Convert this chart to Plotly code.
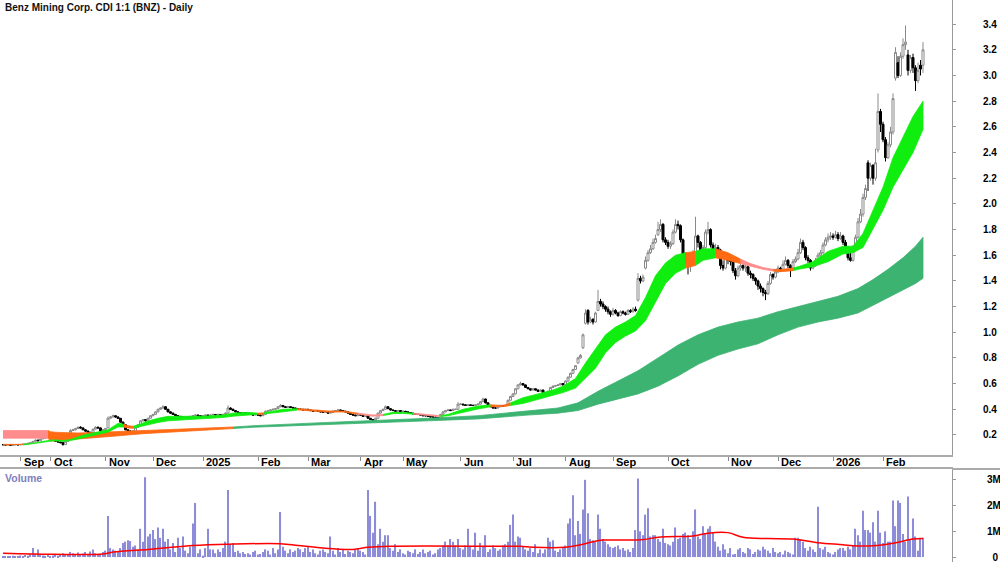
import plotly.graph_objects as go

TITLE = "Benz Mining Corp. CDI 1:1 (BNZ) - Daily"

# ---- month ticks (candle index of first session in month) ----
month_idx = [7, 19, 41, 60, 80, 102, 122, 143, 160, 183, 204, 225, 244, 266, 290, 310, 332, 352]
month_lbl = ["Sep", "Oct", "Nov", "Dec", "2025", "Feb", "Mar", "Apr", "May", "Jun", "Jul", "Aug",
             "Sep", "Oct", "Nov", "Dec", "2026", "Feb"]

# ---- daily OHLC ----
opens = [
    .125, .124, .122, .125, .120, .122, .125, .123, .125, .128,
    .130, .135, .140, .150, .160, .155, .170, .175, .180, .185,
    .175, .165, .150, .145, .140, .125, .150, .180, .235, .240,
    .250, .260, .255, .240, .230, .220, .215, .245, .260, .255,
    .230, .240, .255, .330, .340, .350, .340, .330, .300, .280,
    .240, .230, .225, .230, .260, .280, .310, .320, .310, .330,
    .350, .360, .380, .400, .410, .420, .400, .380, .370, .360,
    .350, .345, .340, .335, .340, .335, .345, .350, .355, .350,
    .345, .350, .355, .350, .355, .360, .355, .360, .355, .360,
    .370, .410, .400, .390, .380, .375, .370, .375, .370, .365,
    .360, .355, .360, .355, .350, .360, .385, .390, .395, .400,
    .405, .420, .430, .420, .415, .420, .415, .410, .405, .400,
    .400, .395, .400, .395, .390, .385, .390, .385, .380, .375,
    .380, .370, .375, .385, .390, .395, .390, .385, .380, .370,
    .360, .355, .350, .360, .355, .345, .350, .330, .320, .310,
    .330, .370, .390, .400, .420, .405, .395, .390, .385, .390,
    .380, .385, .380, .375, .370, .365, .360, .360, .355, .350,
    .350, .345, .340, .340, .335, .330, .360, .380, .390, .395,
    .390, .400, .400, .440, .440, .435, .430, .435, .430, .430,
    .435, .440, .460, .480, .450, .430, .420, .410, .410, .420,
    .430, .425, .430, .470, .500, .520, .560, .590, .600, .590,
    .570, .560, .550, .560, .550, .540, .550, .530, .520, .540,
    .570, .580, .585, .590, .600, .590, .620, .650, .680, .710,
    .760, .800, .880, 1.07, 1.17, 1.08, 1.10, 1.08, 1.17, 1.24,
    1.22, 1.20, 1.18, 1.16, 1.14, 1.17, 1.15, 1.13, 1.16, 1.15,
    1.14, 1.17, 1.16, 1.18, 1.25, 1.42, 1.40, 1.50, 1.56, 1.62,
    1.65, 1.70, 1.76, 1.80, 1.84, 1.72, 1.70, 1.67, 1.69, 1.78,
    1.84, 1.83, 1.72, 1.58, 1.56, 1.52, 1.55, 1.60, 1.75, 1.70,
    1.62, 1.66, 1.78, 1.80, 1.68, 1.62, 1.66, 1.64, 1.52, 1.50,
    1.58, 1.56, 1.55, 1.48, 1.44, 1.50, 1.52, 1.50, 1.51, 1.46,
    1.45, 1.42, 1.40, 1.36, 1.34, 1.31, 1.30, 1.38, 1.45, 1.43,
    1.47, 1.50, 1.49, 1.53, 1.56, 1.52, 1.50, 1.55, 1.57, 1.62,
    1.70, 1.66, 1.58, 1.56, 1.50, 1.52, 1.56, 1.60, 1.62, 1.68,
    1.72, 1.74, 1.75, 1.74, 1.76, 1.73, 1.75, 1.70, 1.66, 1.58,
    1.56, 1.66, 1.74, 1.86, 1.92, 2.05, 2.32, 2.20, 2.30, 2.20,
    2.42, 2.72, 2.62, 2.50, 2.36, 2.46, 2.56, 2.98, 3.10, 3.00,
    3.15, 3.24, 3.16, 3.04, 3.14, 3.06, 2.96, 3.08, 3.08,
]
highs = [
    .127, .125, .126, .125, .124, .127, .126, .127, .130, .133,
    .137, .143, .152, .163, .162, .173, .180, .185, .190, .186,
    .178, .167, .155, .148, .142, .152, .172, .245, .248, .255,
    .265, .268, .258, .245, .234, .225, .250, .268, .265, .258,
    .245, .255, .345, .348, .358, .352, .345, .332, .305, .283,
    .245, .236, .238, .265, .285, .315, .325, .323, .335, .355,
    .365, .385, .405, .415, .430, .423, .403, .385, .374, .364,
    .355, .348, .344, .346, .343, .350, .355, .360, .358, .353,
    .355, .360, .358, .360, .365, .362, .365, .363, .365, .375,
    .430, .415, .405, .394, .384, .378, .380, .378, .373, .368,
    .363, .365, .362, .357, .365, .390, .395, .400, .405, .410,
    .425, .440, .433, .423, .425, .423, .418, .413, .408, .406,
    .403, .405, .403, .398, .393, .395, .392, .387, .383, .385,
    .383, .380, .390, .395, .400, .398, .393, .388, .382, .372,
    .363, .358, .365, .362, .357, .355, .352, .333, .322, .335,
    .375, .395, .405, .430, .423, .408, .398, .393, .395, .392,
    .390, .387, .382, .377, .372, .367, .366, .362, .357, .355,
    .352, .347, .345, .342, .337, .365, .385, .395, .400, .398,
    .405, .404, .455, .448, .443, .438, .440, .437, .436, .440,
    .445, .465, .490, .483, .453, .433, .423, .416, .425, .435,
    .432, .435, .475, .505, .525, .565, .595, .615, .605, .593,
    .573, .563, .565, .562, .553, .555, .552, .533, .545, .575,
    .585, .590, .595, .605, .603, .625, .655, .685, .715, .745,
    .810, .830, .990, 1.18, 1.18, 1.12, 1.11, 1.16, 1.33, 1.26,
    1.24, 1.21, 1.20, 1.17, 1.19, 1.18, 1.16, 1.17, 1.17, 1.16,
    1.18, 1.18, 1.195, 1.20, 1.46, 1.44, 1.45, 1.59, 1.64, 1.68,
    1.73, 1.76, 1.86, 1.88, 1.85, 1.74, 1.72, 1.71, 1.80, 1.88,
    1.87, 1.84, 1.73, 1.62, 1.57, 1.58, 1.64, 1.90, 1.76, 1.71,
    1.68, 1.80, 1.86, 1.81, 1.70, 1.69, 1.68, 1.65, 1.56, 1.62,
    1.60, 1.58, 1.56, 1.50, 1.52, 1.55, 1.53, 1.53, 1.52, 1.48,
    1.46, 1.43, 1.41, 1.38, 1.35, 1.33, 1.40, 1.47, 1.46, 1.49,
    1.52, 1.51, 1.56, 1.59, 1.57, 1.53, 1.57, 1.59, 1.65, 1.73,
    1.72, 1.67, 1.60, 1.57, 1.54, 1.58, 1.62, 1.64, 1.70, 1.74,
    1.77, 1.78, 1.77, 1.79, 1.78, 1.78, 1.76, 1.72, 1.67, 1.62,
    1.68, 1.76, 1.89, 1.96, 2.08, 2.15, 2.34, 2.32, 2.31, 2.43,
    2.86, 2.74, 2.64, 2.52, 2.48, 2.60, 2.86, 3.22, 3.15, 3.18,
    3.29, 3.39, 3.20, 3.16, 3.17, 3.08, 3.10, 3.12, 3.26,
]
lows = [
    .121, .120, .121, .118, .119, .121, .121, .122, .124, .127,
    .129, .134, .138, .148, .152, .154, .168, .172, .178, .172,
    .162, .148, .143, .135, .118, .124, .148, .178, .230, .236,
    .245, .250, .238, .226, .217, .210, .214, .243, .250, .226,
    .228, .236, .254, .325, .336, .335, .325, .296, .276, .236,
    .226, .220, .222, .228, .255, .278, .305, .305, .308, .328,
    .345, .356, .376, .395, .405, .396, .376, .366, .356, .346,
    .340, .336, .330, .333, .331, .334, .342, .347, .346, .341,
    .343, .348, .346, .348, .352, .350, .352, .351, .352, .357,
    .368, .396, .386, .376, .371, .366, .368, .366, .361, .356,
    .351, .353, .351, .346, .348, .358, .381, .386, .391, .396,
    .403, .416, .416, .411, .412, .411, .406, .401, .396, .395,
    .391, .393, .391, .386, .381, .383, .381, .376, .371, .373,
    .366, .368, .373, .383, .387, .386, .381, .376, .366, .356,
    .351, .346, .348, .351, .341, .343, .326, .316, .300, .308,
    .328, .366, .386, .396, .401, .391, .386, .381, .383, .376,
    .378, .376, .371, .366, .361, .356, .355, .351, .346, .345,
    .341, .336, .335, .331, .322, .328, .357, .376, .386, .386,
    .387, .394, .398, .434, .431, .426, .428, .426, .425, .428,
    .432, .438, .456, .446, .426, .416, .406, .404, .408, .418,
    .421, .423, .428, .466, .496, .516, .556, .585, .584, .566,
    .556, .546, .548, .546, .536, .538, .526, .510, .518, .538,
    .566, .576, .581, .586, .586, .588, .616, .646, .676, .706,
    .755, .795, .870, 1.06, 1.06, 1.07, 1.06, 1.075, 1.165, 1.20,
    1.18, 1.16, 1.14, 1.12, 1.13, 1.14, 1.12, 1.125, 1.14, 1.13,
    1.135, 1.15, 1.155, 1.16, 1.24, 1.38, 1.39, 1.49, 1.55, 1.61,
    1.64, 1.69, 1.75, 1.78, 1.70, 1.68, 1.65, 1.65, 1.68, 1.77,
    1.80, 1.70, 1.56, 1.54, 1.45, 1.47, 1.53, 1.59, 1.66, 1.60,
    1.60, 1.65, 1.76, 1.66, 1.60, 1.61, 1.62, 1.49, 1.48, 1.49,
    1.53, 1.52, 1.46, 1.41, 1.43, 1.48, 1.48, 1.47, 1.44, 1.42,
    1.40, 1.37, 1.33, 1.31, 1.28, 1.25, 1.29, 1.37, 1.41, 1.42,
    1.46, 1.47, 1.48, 1.52, 1.50, 1.43, 1.49, 1.54, 1.56, 1.61,
    1.64, 1.56, 1.54, 1.48, 1.49, 1.51, 1.55, 1.58, 1.61, 1.67,
    1.70, 1.72, 1.72, 1.73, 1.71, 1.72, 1.68, 1.64, 1.56, 1.55,
    1.55, 1.65, 1.73, 1.85, 1.90, 2.03, 2.10, 2.18, 2.15, 2.18,
    2.40, 2.56, 2.48, 2.33, 2.35, 2.44, 2.54, 2.96, 2.98, 2.99,
    3.13, 3.20, 3.00, 3.02, 3.02, 2.88, 2.94, 3.00, 3.02,
]
closes = [
    .124, .122, .125, .120, .122, .125, .123, .125, .128, .130,
    .135, .140, .150, .160, .155, .170, .175, .180, .185, .175,
    .165, .150, .145, .140, .125, .150, .170, .235, .240, .250,
    .260, .255, .240, .230, .220, .215, .245, .260, .255, .230,
    .240, .250, .330, .340, .350, .340, .330, .300, .280, .240,
    .230, .225, .230, .260, .280, .310, .320, .310, .330, .350,
    .360, .380, .400, .410, .420, .400, .380, .370, .360, .350,
    .345, .340, .335, .340, .335, .345, .350, .355, .350, .345,
    .350, .355, .350, .355, .360, .355, .360, .355, .360, .370,
    .410, .400, .390, .380, .375, .370, .375, .370, .365, .360,
    .355, .360, .355, .350, .360, .385, .390, .395, .400, .405,
    .420, .430, .420, .415, .420, .415, .410, .405, .400, .400,
    .395, .400, .395, .390, .385, .390, .385, .380, .375, .380,
    .370, .375, .385, .390, .395, .390, .385, .380, .370, .360,
    .355, .350, .360, .355, .345, .350, .330, .320, .310, .330,
    .370, .390, .400, .420, .405, .395, .390, .385, .390, .380,
    .385, .380, .375, .370, .365, .360, .360, .355, .350, .350,
    .345, .340, .340, .335, .330, .360, .380, .390, .395, .390,
    .400, .400, .440, .440, .435, .430, .435, .430, .430, .435,
    .440, .460, .480, .450, .430, .420, .410, .410, .420, .430,
    .425, .430, .470, .500, .520, .560, .590, .600, .590, .570,
    .560, .550, .560, .550, .540, .550, .530, .520, .540, .570,
    .580, .585, .590, .600, .590, .620, .650, .680, .710, .740,
    .800, .820, .980, 1.15, 1.08, 1.10, 1.08, 1.15, 1.24, 1.22,
    1.20, 1.18, 1.16, 1.14, 1.17, 1.15, 1.13, 1.16, 1.15, 1.14,
    1.17, 1.16, 1.18, 1.17, 1.42, 1.40, 1.43, 1.56, 1.62, 1.65,
    1.70, 1.73, 1.80, 1.84, 1.72, 1.70, 1.67, 1.69, 1.78, 1.84,
    1.83, 1.72, 1.58, 1.56, 1.52, 1.55, 1.60, 1.75, 1.70, 1.62,
    1.66, 1.78, 1.80, 1.68, 1.62, 1.66, 1.64, 1.52, 1.50, 1.58,
    1.56, 1.55, 1.48, 1.44, 1.50, 1.52, 1.50, 1.51, 1.46, 1.45,
    1.42, 1.40, 1.36, 1.34, 1.31, 1.30, 1.38, 1.45, 1.43, 1.47,
    1.50, 1.49, 1.53, 1.56, 1.52, 1.50, 1.55, 1.57, 1.62, 1.70,
    1.66, 1.58, 1.56, 1.50, 1.52, 1.56, 1.60, 1.62, 1.68, 1.72,
    1.74, 1.75, 1.74, 1.76, 1.73, 1.75, 1.70, 1.66, 1.58, 1.56,
    1.66, 1.74, 1.86, 1.92, 2.05, 2.12, 2.20, 2.30, 2.20, 2.32,
    2.72, 2.62, 2.50, 2.36, 2.46, 2.56, 2.82, 3.18, 3.00, 3.15,
    3.24, 3.26, 3.04, 3.14, 3.06, 2.96, 3.04, 3.05, 3.20,
]
# ---- daily volume (millions) ----
volume_m = [
    0.02, 0.03, 0.01, 0.02, 0.05, 0.02, 0.03, 0.06, 0.04, 0.08,
    0.05, 0.12, 0.35, 0.10, 0.30, 0.08, 0.06, 0.05, 0.10, 0.04,
    0.06, 0.12, 0.05, 0.08, 0.15, 0.10, 0.12, 0.20, 0.15, 0.08,
    0.18, 0.10, 0.14, 0.20, 0.10, 0.22, 0.30, 0.15, 0.08, 0.12,
    0.20, 0.25, 1.60, 0.35, 0.30, 0.25, 0.20, 0.35, 0.55, 0.60,
    0.65, 0.62, 0.40, 0.45, 0.30, 1.10, 0.60, 3.10, 0.80, 0.90,
    1.05, 0.70, 1.15, 0.75, 1.10, 0.60, 0.70, 0.30, 0.55, 0.20,
    0.75, 0.35, 0.80, 0.25, 0.15, 0.40, 1.30, 2.10, 0.15, 0.30,
    0.05, 0.35, 1.10, 0.30, 0.30, 0.15, 0.30, 0.20, 0.35, 0.60,
    2.60, 0.50, 0.55, 0.20, 0.25, 0.15, 0.20, 0.12, 0.15, 0.10,
    0.20, 0.25, 0.10, 0.12, 0.20, 0.30, 0.25, 0.10, 0.35, 0.15,
    0.30, 1.75, 0.40, 0.25, 0.15, 0.30, 0.20, 0.25, 0.35, 0.30,
    0.20, 0.35, 0.40, 0.20, 0.30, 0.15, 0.10, 0.25, 0.30, 0.20,
    0.15, 0.80, 0.25, 0.10, 0.35, 0.20, 0.30, 0.12, 0.25, 0.20,
    0.15, 0.30, 0.35, 0.25, 0.20, 0.10, 2.60, 1.60, 0.95, 2.15,
    0.50, 1.10, 0.60, 0.85, 0.85, 0.35, 0.25, 0.50, 0.20, 0.30,
    0.15, 0.10, 0.25, 0.20, 0.15, 0.30, 0.12, 0.20, 0.30, 0.15,
    0.20, 0.25, 0.10, 0.15, 0.30, 0.35, 0.45, 0.60, 0.45, 0.70,
    0.60, 0.45, 0.70, 0.35, 0.30, 0.45, 1.10, 0.40, 0.30, 0.95,
    0.25, 0.55, 0.40, 0.85, 0.20, 0.30, 0.45, 0.35, 0.25, 0.30,
    0.45, 0.50, 0.60, 1.25, 1.65, 0.60, 0.80, 0.75, 0.40, 0.30,
    0.25, 0.35, 0.20, 0.50, 0.15, 0.30, 0.15, 0.30, 0.75, 0.60,
    0.65, 0.25, 0.20, 0.30, 0.35, 0.45, 1.30, 1.50, 2.40, 0.85,
    1.40, 0.90, 1.85, 3.00, 1.70, 0.70, 0.65, 0.60, 1.65, 1.10,
    0.70, 0.60, 0.50, 0.40, 0.35, 0.40, 0.45, 0.30, 0.35, 0.25,
    0.30, 0.20, 0.35, 1.05, 3.05, 1.00, 0.85, 1.65, 1.90, 0.80,
    0.85, 0.85, 0.70, 0.60, 1.10, 0.55, 0.50, 0.45, 0.60, 1.15,
    0.70, 0.75, 0.90, 0.95, 0.85, 0.70, 1.00, 1.85, 0.80, 0.70,
    1.20, 0.90, 1.10, 1.20, 0.95, 0.60, 0.40, 0.25, 0.50, 0.30,
    0.15, 0.35, 0.10, 0.12, 0.30, 0.35, 0.20, 0.15, 0.35, 0.30,
    0.12, 0.20, 0.30, 0.25, 0.40, 0.30, 0.25, 0.15, 0.35, 0.20,
    0.15, 0.20, 0.10, 0.25, 0.20, 0.15, 0.10, 0.75, 0.75, 0.70,
    0.60, 0.35, 0.25, 0.40, 0.30, 0.20, 1.95, 0.35, 0.30, 0.40,
    0.20, 0.15, 0.10, 0.20, 0.30, 0.35, 0.35, 0.25, 0.40, 0.30,
    0.45, 1.10, 0.85, 0.60, 1.80, 1.05, 1.05, 0.95, 1.35, 0.60,
    1.80, 0.95, 0.55, 1.00, 0.60, 0.60, 2.20, 1.20, 2.20, 2.10,
    0.90, 0.60, 2.35, 0.70, 1.50, 0.80, 0.25, 0.75, 0.75,
]
# ---- volume moving average (millions) ----
vma_idx = [0, 20, 40, 44, 58, 64, 76, 90, 111, 118, 128, 140, 146, 155, 200, 207, 212, 225,
           231, 236, 240, 255, 263, 276, 282, 290, 296, 306, 316, 326, 336, 340, 348, 356, 364, 368]
vma_val = [0.15, 0.11, 0.12, 0.20, 0.30, 0.35, 0.45, 0.50, 0.52, 0.45, 0.35, 0.30, 0.38, 0.42, 0.42, 0.42, 0.38, 0.38,
           0.48, 0.60, 0.66, 0.67, 0.78, 0.82, 0.93, 0.95, 0.77, 0.72, 0.70, 0.56, 0.48, 0.44, 0.44, 0.54, 0.70, 0.72]

# ---- short-term MMA ribbon ----
short_idx = [0, 8, 11, 16, 20, 24, 27, 32, 38, 42, 46, 48, 50, 52, 54, 58, 62, 66, 72, 80, 88, 92, 98, 102,
             104, 106, 112, 118, 124, 130, 136, 142, 148, 152, 156, 160, 164, 170, 175, 178, 184, 190, 195,
             200, 203, 208, 214, 220, 224, 229, 233, 237, 241, 245, 249, 253, 257, 261, 265, 269, 273, 277,
             280, 285, 290, 295, 299, 304, 308, 311, 316, 318, 324, 330, 336, 340, 344, 348, 352, 356, 360,
             364, 368]
short_top = [.127, .127, .132, .150, .162, .157, .165, .198, .222, .240, .290, .285, .272, .268, .278, .308,
             .330, .345, .347, .346, .356, .370, .376, .370, .372, .380, .400, .405, .397, .387, .386, .370,
             .355, .360, .376, .376, .370, .356, .350, .360, .400, .425, .435, .430, .450, .490, .520, .550,
             .580, .640, .760, .870, .980, 1.04, 1.08, 1.13, 1.27, 1.44, 1.54, 1.60, 1.62, 1.63, 1.65, 1.65,
             1.62, 1.57, 1.535, 1.505, 1.49, 1.488, 1.50, 1.51, 1.55, 1.63, 1.67, 1.67, 1.77, 1.95, 2.13, 2.36,
             2.52, 2.68, 2.80]
short_bot = [.122, .122, .127, .143, .155, .150, .156, .182, .205, .222, .262, .262, .255, .252, .260, .280,
             .297, .310, .318, .326, .336, .346, .356, .361, .363, .366, .380, .395, .387, .378, .379, .362,
             .346, .351, .366, .368, .362, .349, .343, .350, .375, .402, .420, .421, .430, .445, .475, .510,
             .530, .565, .640, .720, .840, .920, .970, 1.01, 1.09, 1.24, 1.38, 1.46, 1.50, 1.52, 1.56, 1.58,
             1.56, 1.535, 1.515, 1.49, 1.477, 1.472, 1.48, 1.49, 1.51, 1.55, 1.61, 1.62, 1.66, 1.80, 1.95, 2.13,
             2.26, 2.40, 2.58]
short_state = ["o", "l", "l", "l", "l", "l", "l", "l", "l", "l", "l", "o", "o", "l", "l", "l",
               "l", "l", "l", "l", "l", "l", "l", "o", "l", "l", "l", "o", "o", "o", "o", "p",
               "p", "l", "l", "l", "p", "p", "l", "l", "l", "l", "o", "o", "l", "l", "l", "l",
               "l", "l", "l", "l", "l", "l", "l", "l", "l", "l", "l", "l", "o", "l", "l", "o",
               "o", "p", "p", "p", "o", "o", "l", "l", "l", "l", "l", "l", "l", "l", "l", "l",
               "l", "l", "l"]

# ---- long-term MMA ribbon ----
long_idx = [0, 18, 19, 22, 30, 44, 56, 72, 92, 100, 130, 150, 170, 190, 210, 222, 230, 238, 246, 254,
            262, 270, 278, 286, 294, 302, 310, 318, 326, 334, 342, 348, 354, 360, 365, 368]
long_top = [.235, .235, .225, .220, .215, .225, .235, .248, .262, .272, .298, .313, .330, .350, .385, .410,
            .450, .540, .620, .700, .800, .900, .980, 1.04, 1.08, 1.11, 1.16, 1.20, 1.24, 1.28, 1.34, 1.41,
            1.49, 1.58, 1.67, 1.74]
long_bot = [.175, .175, .152, .160, .170, .190, .210, .228, .250, .260, .284, .297, .310, .325, .355, .370,
            .390, .440, .480, .520, .580, .660, .750, .820, .870, .910, .980, 1.04, 1.08, 1.11, 1.15, 1.21,
            1.27, 1.33, 1.38, 1.42]
long_state = ["p", "o", "o", "o", "o", "o", "o", "o", "g", "g", "g", "g", "g", "g", "g", "g", "g", "g",
              "g", "g", "g", "g", "g", "g", "g", "g", "g", "g", "g", "g", "g", "g", "g", "g", "g", "g"]

COLORS = {"l": "#0fee0f", "o": "#ff6a13", "p": "#ff8c8c", "g": "#3cb371"}

n = len(closes)
assert len(opens) == n and len(highs) == n and len(lows) == n and len(volume_m) == n
assert len(short_idx) == len(short_top) == len(short_bot) == len(short_state)
assert len(long_idx) == len(long_top) == len(long_bot) == len(long_state)
xs = list(range(n))

fig = go.Figure()


def add_ribbon(idx, top, bot, state):
    j = 0
    m = len(idx)
    while j < m - 1:
        k = j
        while k + 1 < m - 1 and state[k + 1] == state[j]:
            k += 1
        end = k + 1
        px = idx[j:end + 1] + idx[j:end + 1][::-1]
        py = top[j:end + 1] + bot[j:end + 1][::-1]
        c = COLORS[state[j]]
        fig.add_trace(go.Scatter(x=px, y=py, fill="toself", fillcolor=c, mode="lines",
                                 line=dict(color=c, width=0.8), hoverinfo="skip",
                                 showlegend=False, xaxis="x", yaxis="y"))
        j = end


add_ribbon(long_idx, long_top, long_bot, long_state)
add_ribbon(short_idx, short_top, short_bot, short_state)

fig.add_trace(go.Candlestick(
    x=xs, open=opens, high=highs, low=lows, close=closes,
    increasing=dict(line=dict(color="#8a8a8a", width=1), fillcolor="#ffffff"),
    decreasing=dict(line=dict(color="#000000", width=1), fillcolor="#000000"),
    whiskerwidth=0, showlegend=False, hoverinfo="skip", xaxis="x", yaxis="y"))

fig.add_trace(go.Bar(x=xs, y=volume_m, width=0.45, marker=dict(color="#8c8cd8", line=dict(width=0)),
                     showlegend=False, hoverinfo="skip", xaxis="x2", yaxis="y2"))
fig.add_trace(go.Scatter(x=vma_idx, y=vma_val, mode="lines", line=dict(color="#ff0000", width=1.5),
                         line_shape="spline", showlegend=False, hoverinfo="skip", xaxis="x2", yaxis="y2"))

FONT = "Liberation Sans, Arial, sans-serif"
XR = [-1.2, 379.6]
XD = [0, 0.952]
price_ticks = [0.2, 0.4, 0.6, 0.8, 1.0, 1.2, 1.4, 1.6, 1.8, 2.0, 2.2, 2.4, 2.6, 2.8, 3.0, 3.2, 3.4]

fig.update_layout(
    width=1000, height=562, margin=dict(l=0, r=0, t=0, b=0),
    paper_bgcolor="white", plot_bgcolor="white", showlegend=False,
    boxgap=0.2, boxgroupgap=0,
    font=dict(family=FONT, size=11, color="#000000"),
    xaxis=dict(domain=XD, range=XR, anchor="y", showgrid=False, zeroline=False,
               tickvals=month_idx, ticks="outside", ticklen=4, tickcolor="#888888",
               showticklabels=False, showline=True, linecolor="#aaaaaa", linewidth=2,
               rangeslider=dict(visible=False), fixedrange=True),
    yaxis=dict(domain=[0.1904, 1.0], range=[0.044, 3.588], anchor="x", side="right",
               showgrid=False, zeroline=False, showline=True, linecolor="#999999", linewidth=1,
               tickvals=price_ticks, ticktext=["%.1f" % v for v in price_ticks],
               ticks="outside", ticklen=3, tickcolor="#999999", ticklabelstandoff=25,
               ticklabeloverflow="allow",
               tickfont=dict(family=FONT, size=10, color="#000000", weight="bold"),
               automargin=False, fixedrange=True),
    xaxis2=dict(domain=XD, range=XR, anchor="y2", side="top", showgrid=False, zeroline=False,
                showticklabels=False, ticks="", showline=True, linecolor="#aaaaaa", linewidth=2,
                fixedrange=True),
    yaxis2=dict(domain=[0.0, 0.1655], range=[-0.19, 3.42], anchor="x2", side="right",
                showgrid=False, zeroline=False, showline=True, linecolor="#999999", linewidth=1,
                tickvals=[0, 1, 2, 3], ticktext=["\u20070", "1M", "2M", "3M"],
                ticks="outside", ticklen=3, tickcolor="#999999", ticklabelstandoff=29,
                ticklabeloverflow="allow",
                tickfont=dict(family=FONT, size=10, color="#000000", weight="bold"),
                automargin=False, fixedrange=True),
)

# strip border under the month labels runs across the full width
fig.add_shape(type="line", xref="paper", yref="paper", x0=0.952, x1=1.0,
              y0=0.1655, y1=0.1655, line=dict(color="#aaaaaa", width=2))

for mi, ml in zip(month_idx, month_lbl):
    fig.add_annotation(x=mi, y=(562 - 462) / 562, xref="x", yref="paper", text=ml, showarrow=False,
                       xanchor="left", yanchor="middle", xshift=1,
                       font=dict(family=FONT, size=11, color="#000000", weight="bold"))

fig.add_annotation(x=0.003, y=(562 - 8) / 562, xref="paper", yref="paper", text=TITLE, showarrow=False,
                   xanchor="left", yanchor="middle",
                   font=dict(family=FONT, size=10, color="#111111", weight="bold"))
fig.add_annotation(x=0.003, y=(562 - 478) / 562, xref="paper", yref="paper", text="Volume", showarrow=False,
                   xanchor="left", yanchor="middle",
                   font=dict(family=FONT, size=10.5, color="#8080c0", weight="bold"))

fig.write_html("out.html", config={"displayModeBar": False})
